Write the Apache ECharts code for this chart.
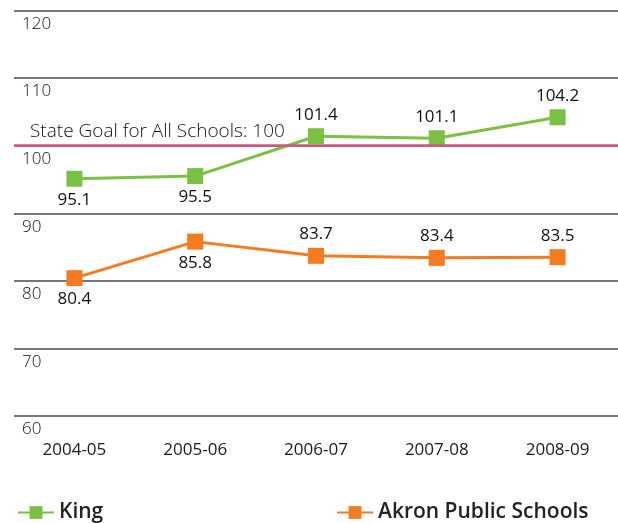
<!DOCTYPE html>
<html>
<head>
<meta charset="utf-8">
<script src="https://cdn.jsdelivr.net/npm/echarts@6/dist/echarts.min.js"></script>
<style>
  html, body { margin: 0; padding: 0; background: #fff; }
  #chart { width: 618px; height: 523px; }
</style>
</head>
<body>
<div id="chart"></div>
<script>
// data
const years = ["2004-05", "2005-06", "2006-07", "2007-08", "2008-09"];
const kingValues = [95.1, 95.5, 101.4, 101.1, 104.2];
const akronValues = [80.4, 85.8, 83.7, 83.4, 83.5];
const kingLabelPos = ["bottom", "bottom", "top", "top", "top"];
const akronLabelPos = ["bottom", "bottom", "top", "top", "top"];
const stateGoal = 100;

const FONT = "Open Sans";
const chart = echarts.init(document.getElementById("chart"));

function buildData(values, positions) {
  return values.map((v, i) => ({
    value: v,
    label: { position: positions[i] }
  }));
}

const option = {
  animation: false,
  textStyle: { fontFamily: FONT },
  grid: { left: 14, right: 0, top: 10.5, bottom: 107 },
  xAxis: {
    type: "category",
    data: years,
    boundaryGap: true,
    axisLine: { show: false },
    axisTick: { show: false },
    axisLabel: { color: "#1a1a1a", fontSize: 17, margin: 26, fontFamily: FONT }
  },
  yAxis: {
    type: "value",
    min: 60,
    max: 120,
    interval: 10,
    axisLine: { show: false },
    axisTick: { show: false },
    axisLabel: {
      inside: true,
      color: "#111",
      fontSize: 17,
      fontWeight: 300,
      verticalAlign: "top",
      padding: [5, 0, 0, 0],
      margin: 8,
      fontFamily: FONT
    },
    splitLine: { lineStyle: { color: "#4a4a4a", width: 1.5 } }
  },
  legend: [
    {
      left: 12, top: 497,
      itemWidth: 36, itemHeight: 16,
      itemGap: 8,
      data: ["King"],
      textStyle: { fontSize: 21, fontWeight: 600, color: "#222", fontFamily: FONT }
    },
    {
      left: 331, top: 497,
      itemWidth: 36, itemHeight: 16,
      data: ["Akron Public Schools"],
      textStyle: { fontSize: 21, fontWeight: 600, color: "#222", fontFamily: FONT }
    }
  ],
  series: [
    {
      name: "King",
      type: "line",
      data: buildData(kingValues, kingLabelPos),
      symbol: "rect",
      symbolSize: 16,
      itemStyle: { color: "#7AC143" },
      lineStyle: { color: "#7AC143", width: 3 },
      label: { show: true, color: "#111", fontSize: 17, distance: 5, fontFamily: FONT },
      markLine: {
        silent: true,
        symbol: "none",
        data: [{ yAxis: stateGoal }],
        lineStyle: { color: "#D6557F", width: 2.5, type: "solid" },
        label: {
          position: "insideStartTop",
          formatter: "State Goal for All Schools: " + stateGoal,
          color: "#111",
          fontSize: 19,
          fontWeight: 300,
          distance: [16, 5],
          fontFamily: FONT
        }
      },
      z: 3
    },
    {
      name: "Akron Public Schools",
      type: "line",
      data: buildData(akronValues, akronLabelPos),
      symbol: "rect",
      symbolSize: 16,
      itemStyle: { color: "#F47B20" },
      lineStyle: { color: "#F47B20", width: 3 },
      label: { show: true, color: "#111", fontSize: 17, distance: 5, fontFamily: FONT },
      z: 3
    }
  ]
};

chart.setOption(option);
</script>
</body>
</html>
